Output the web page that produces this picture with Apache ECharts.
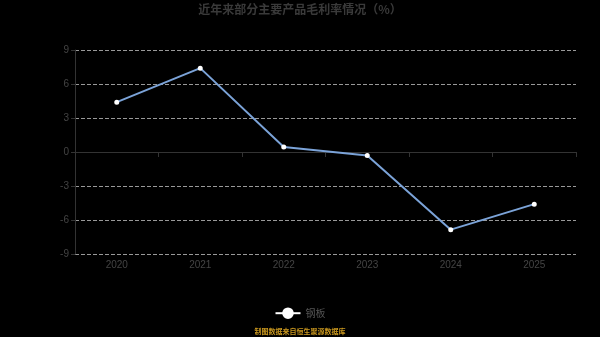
<!DOCTYPE html>
<html><head><meta charset="utf-8">
<script src="https://cdn.jsdelivr.net/npm/echarts@6/dist/echarts.min.js"></script>
<style>html,body{margin:0;padding:0;background:#000;}#c{width:600px;height:337px;}</style>
</head><body><div id="c"></div>
<script>
var categories = ['2020','2021','2022','2023','2024','2025'];
var seriesName = '钢板';
var values = [4.4, 7.4, 0.45, -0.3, -6.85, -4.6];
var yTicks = {min: -9, max: 9, interval: 3};
var titleText = '近年来部分主要产品毛利率情况（%）';
var sourceText = '制图数据来自恒生聚源数据库';

var chart = echarts.init(document.getElementById('c'));
chart.setOption({
  backgroundColor: '#000',
  title: {text: titleText, left: 'center', top: -2,
    textStyle: {color: '#3a3a3a', fontSize: 12, fontWeight: 'bold', fontFamily: 'Noto Sans CJK SC'}},
  legend: {data: [seriesName], bottom: 13, itemWidth: 25, itemHeight: 12,
    itemStyle: {color: '#fff', borderColor: '#fff'},
    lineStyle: {color: '#fff'},
    textStyle: {color: '#555', fontSize: 10, fontFamily: 'Noto Sans CJK SC'}},
  graphic: [{type: 'text', left: 'center', bottom: 2,
    style: {text: sourceText, fill: '#c8961e', fontSize: 7, fontWeight: 'bold', fontFamily: 'Noto Sans CJK SC'}}],
  grid: {left: 75, right: 24, top: 50, bottom: 83},
  xAxis: [{type: 'category', data: categories, position: 'bottom',
      axisLine: {show: true, onZero: true, lineStyle: {color: '#333'}},
      axisTick: {show: true, lineStyle: {color: '#333'}},
      axisLabel: {show: false}},
    {type: 'category', data: categories, position: 'bottom', gridIndex: 0,
      axisLine: {show: false, onZero: false}, axisTick: {show: false},
      axisLabel: {color: '#444', fontSize: 10, margin: 6}}],
  yAxis: {type: 'value', min: yTicks.min, max: yTicks.max, interval: yTicks.interval,
    axisLine: {show: true, lineStyle: {color: '#333'}},
    axisTick: {show: true, length: 4, lineStyle: {color: '#333'}},
    axisLabel: {color: '#444', fontSize: 10, margin: 6},
    splitLine: {lineStyle: {color: '#999', type: 'dashed'}}},
  series: [{name: seriesName, type: 'line', data: values, xAxisIndex: 0,
    symbol: 'emptyCircle', symbolSize: 3,
    lineStyle: {color: '#7ba3d8', width: 2},
    itemStyle: {color: '#fff', borderColor: '#7ba3d8', borderWidth: 1}}]
});
</script></body></html>
